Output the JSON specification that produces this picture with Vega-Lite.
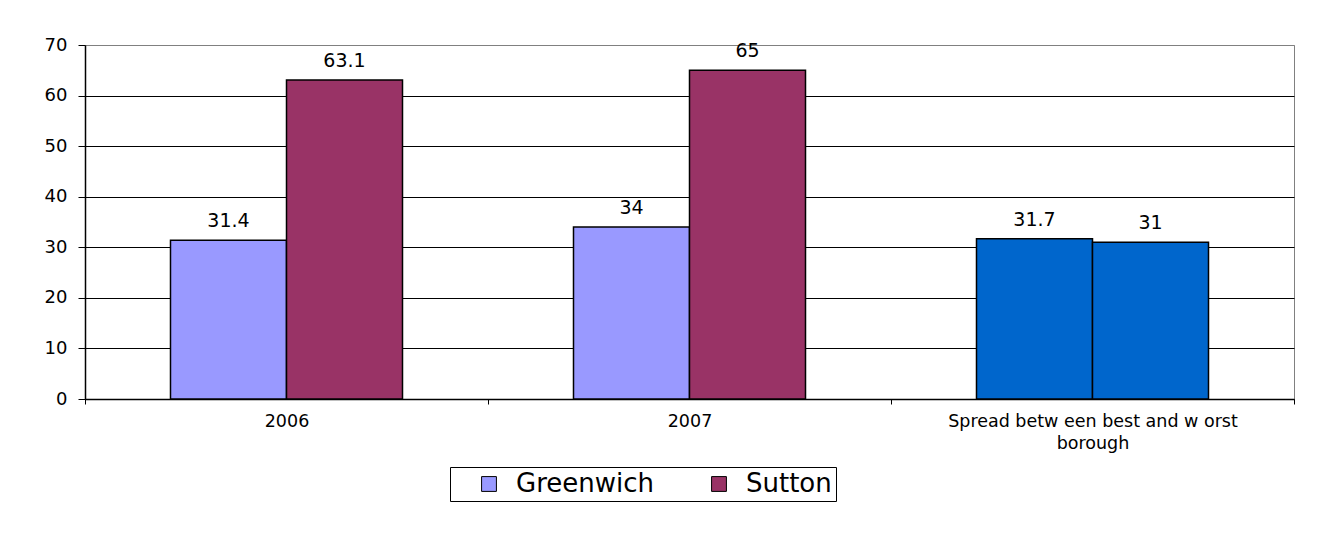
{
  "$schema": "https://vega.github.io/schema/vega-lite/v6.json",
  "width": 1209,
  "height": 354,
  "autosize": {"type": "none"},
  "padding": {"left": 85, "top": 45, "right": 32, "bottom": 136},
  "background": "white",
  "config": {
    "view": {"stroke": "#808080", "strokeWidth": 1},
    "font": "DejaVu Sans"
  },
  "data": {
    "values": [
      {"cat": "2006", "series": "Greenwich", "value": 31.4},
      {"cat": "2006", "series": "Sutton", "value": 63.1},
      {"cat": "2007", "series": "Greenwich", "value": 34},
      {"cat": "2007", "series": "Sutton", "value": 65},
      {"cat": "Spread betw een best and w orst borough", "series": "Greenwich", "value": 31.7},
      {"cat": "Spread betw een best and w orst borough", "series": "Sutton", "value": 31}
    ]
  },
  "encoding": {
    "x": {
      "field": "cat",
      "type": "nominal",
      "sort": ["2006", "2007", "Spread betw een best and w orst borough"],
      "scale": {"paddingInner": 0, "paddingOuter": 0},
      "axis": {
        "title": null,
        "labelAngle": 0,
        "labelFontSize": 17.5,
        "labelColor": "black",
        "labelPadding": 8,
        "labelLineHeight": 22,
        "labelLimit": 0,
        "labelExpr": "datum.value == 'Spread betw een best and w orst borough' ? ['Spread betw een best and w orst', 'borough'] : datum.label",
        "tickBand": "extent",
        "tickSize": 5,
        "tickColor": "black",
        "domainColor": "black",
        "domainWidth": 1.5,
        "grid": false
      }
    },
    "xOffset": {
      "field": "series",
      "type": "nominal",
      "sort": ["Greenwich", "Sutton"],
      "scale": {"paddingInner": 0, "paddingOuter": 0.737}
    },
    "y": {
      "field": "value",
      "type": "quantitative",
      "scale": {"domain": [0, 70], "nice": false},
      "axis": {
        "title": null,
        "values": [0, 10, 20, 30, 40, 50, 60, 70],
        "labelFontSize": 18,
        "labelColor": "black",
        "labelPadding": 11,
        "tickSize": 7,
        "tickColor": "black",
        "domainColor": "black",
        "domainWidth": 1.5,
        "grid": true,
        "gridColor": {"condition": {"test": "datum.value == 70", "value": "#808080"}, "value": "black"},
        "gridOpacity": 1,
        "gridWidth": 1
      }
    }
  },
  "layer": [
    {
      "mark": {"type": "bar", "stroke": "black", "strokeWidth": 1.5},
      "encoding": {
        "color": {
          "condition": {"test": "datum.cat == 'Spread betw een best and w orst borough'", "value": "#0066CC"},
          "field": "series",
          "type": "nominal",
          "scale": {"domain": ["Greenwich", "Sutton"], "range": ["#9999FF", "#993366"]},
          "legend": {
            "title": null,
            "orient": "none",
            "legendX": 365,
            "legendY": 422,
            "direction": "horizontal",
            "strokeColor": "black",
            "fillColor": "white",
            "padding": 4,
            "symbolType": "square",
            "symbolSize": 220,
            "symbolStrokeColor": "black",
            "symbolStrokeWidth": 1,
            "symbolOpacity": 1,
            "symbolOffset": 22,
            "labelFontSize": 26,
            "labelColor": "black",
            "labelOffset": 14,
            "columnPadding": 30
          }
        }
      }
    },
    {
      "mark": {"type": "text", "baseline": "alphabetic", "dy": -13, "fontSize": 19, "color": "black"},
      "encoding": {
        "text": {"field": "value", "type": "quantitative", "format": "~g"}
      }
    }
  ]
}
